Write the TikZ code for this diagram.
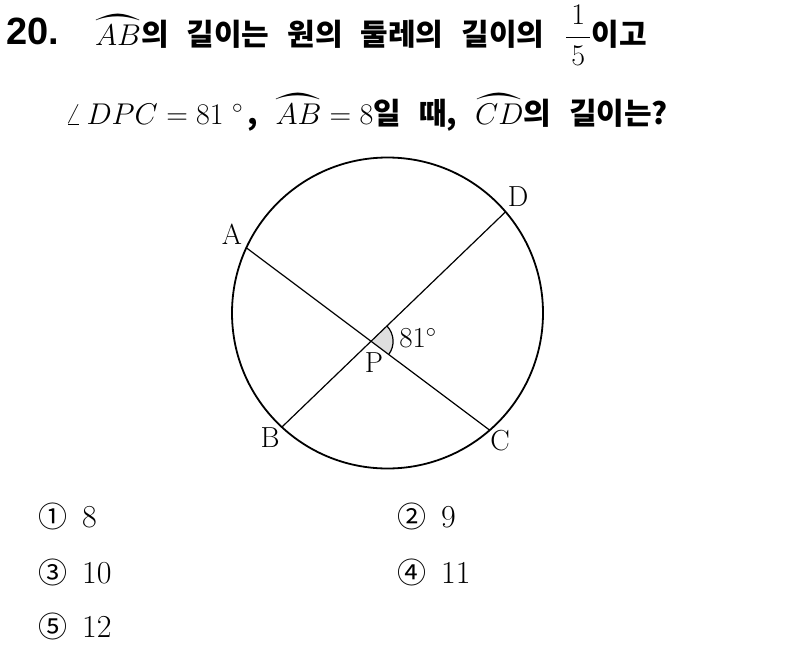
\RequirePackage{fix-cm}
\documentclass[tikz,border=0pt]{standalone}
\usepackage{fontspec}
\usepackage{amsmath}
\usepackage{yhmath}
\usetikzlibrary{calc}
\newfontfamily\kor{Noto Sans CJK KR}
\newfontfamily\numfont{Liberation Sans}
\newcommand\widesp{\spaceskip=18pt\relax}

\begin{document}
\begin{tikzpicture}[x=1pt, y=-1pt, line cap=round,
	ptlabel/.style={font=\fontsize{29}{29}\selectfont, inner sep=0pt},
	textline/.style={anchor=base west, inner sep=0pt, font=\fontsize{30}{36}\selectfont\kor\bfseries},
	choice/.style={anchor=base west, inner sep=0pt, font=\fontsize{32}{36}\selectfont}]
	\useasboundingbox (0,0) rectangle (804,651);
	% question
	\node[anchor=base west, inner sep=0pt, font=\fontsize{38}{40}\selectfont\numfont\bfseries] (num) at (6,44) {20.};
	\node[textline] (line1) at (95,45) {\widesp$\wideparen{AB}$의 길이는 원의 둘레의 길이의 \hspace{3pt}$\dfrac{\hspace{5pt}1\hspace{5pt}}{5}$이고};
	\node[textline] (line2) at (65,124) {\widesp$\angle\,DPC=81\;^{\circ}$\hspace{4pt}, $\wideparen{AB}=8$일 때, $\wideparen{CD}$의 길이는?};
	% circle and chords
	\coordinate (O) at (387.5,313);
	\coordinate (A) at ($(O)+(-155.2:155.5)$);
	\coordinate (D) at ($(O)+(-40.6:155.5)$);
	\coordinate (B) at ($(O)+(132.8:155.5)$);
	\coordinate (C) at ($(O)+(48.9:155.5)$);
	\coordinate (P) at (intersection of A--C and B--D);
	\fill[gray!25] (P) -- ++(37:22) arc[start angle=37, end angle=-44, radius=22] -- cycle;
	\draw[line width=1.2pt] ([shift={(37:22)}]P) arc[start angle=37, end angle=-44, radius=22];
	\draw[line width=1.8pt] (O) circle[radius=155.5];
	\draw[line width=1.2pt] (A) -- (C) (B) -- (D);
	% labels
	\node[ptlabel] (lA) at (232,234) {A};
	\node[ptlabel] (lD) at (518,197) {D};
	\node[ptlabel] (lB) at (270,438) {B};
	\node[ptlabel] (lC) at (500,441) {C};
	\node[ptlabel] (lP) at (374,363) {P};
	\node[ptlabel] (lang) at (418,338) {81$^{\circ}$};
	% choices
	\foreach \x/\y/\m/\v in {38/527/①/8, 397/527/②/9, 38/583/③/10, 397/583/④/11, 38/637/⑤/12}{
		\node[choice] (m\v) at (\x,\y) {\kor\fontsize{29}{34}\selectfont\m};
		\node[choice] (v\v) at (\x+44,\y) {\v};
	}
\end{tikzpicture}
\end{document}
